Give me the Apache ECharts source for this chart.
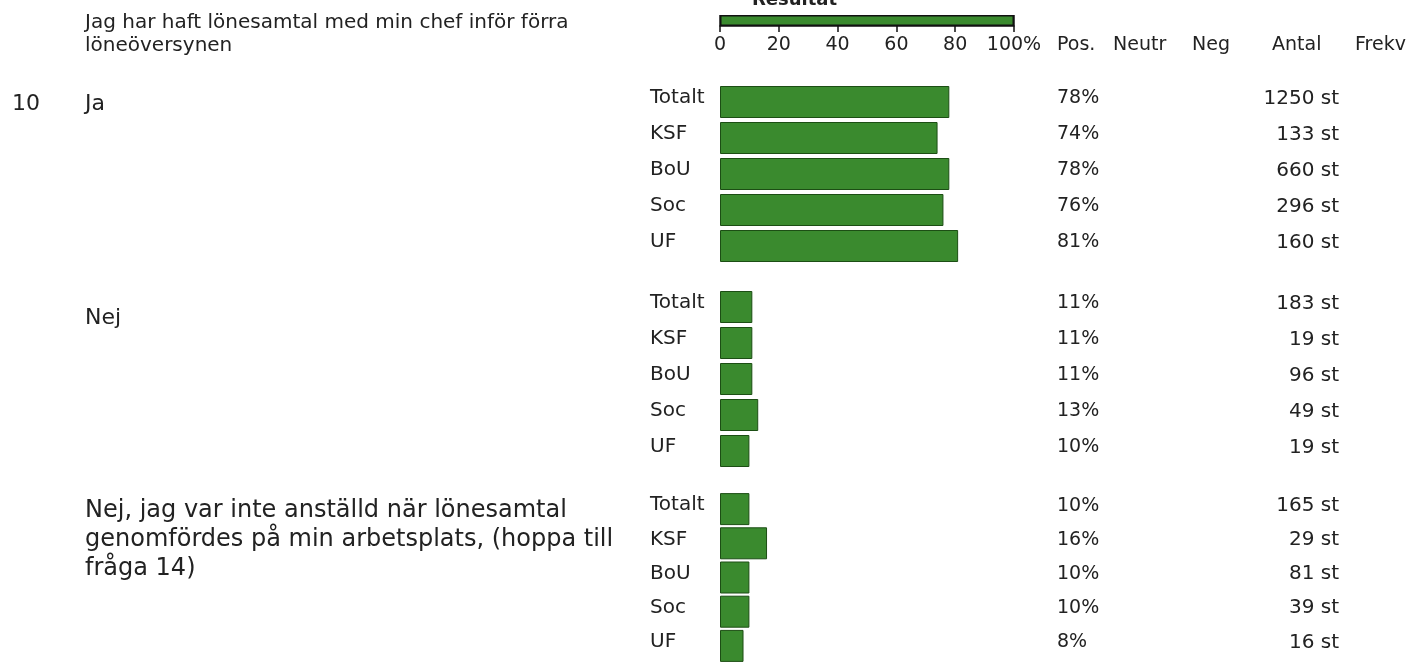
<!DOCTYPE html>
<html>
<head>
<meta charset="utf-8">
<script src="https://cdn.jsdelivr.net/npm/echarts@6/dist/echarts.min.js"></script>
<style>
  html, body { margin: 0; padding: 0; background: #fff; }
  #chart { width: 1426px; height: 663px; }
</style>
</head>
<body>
<div id="chart"></div>
<script>
// units
const units = ["Totalt", "KSF", "BoU", "Soc", "UF"];
// percentages per answer
const jaPct = [78, 74, 78, 76, 81];
const nejPct = [11, 11, 11, 13, 10];
const ejAnstPct = [10, 16, 10, 10, 8];
// counts per answer
const jaAntal = [1250, 133, 660, 296, 160];
const nejAntal = [183, 19, 96, 49, 19];
const ejAnstAntal = [165, 29, 81, 39, 16];
// scale ticks
const scaleTicks = [0, 20, 40, 60, 80, 100];

const groups = [
  { pct: jaPct, antal: jaAntal, top: 84 },
  { pct: nejPct, antal: nejAntal, top: 289 },
  { pct: ejAnstPct, antal: ejAnstAntal, top: 492 }
];

const FONT = "DejaVu Sans";
const GREEN = "#3a8a2e";
const LEFT = 720, WIDTH = 294;

const grids = [{ left: LEFT, width: WIDTH, top: 15, height: 11 }];
const xAxes = [{
  gridIndex: 0, type: "value", min: 0, max: 100, interval: 20,
  position: "bottom",
  axisLine: { show: true, lineStyle: { color: "#111", width: 1.5 } },
  axisTick: { show: true, length: 6, lineStyle: { color: "#111", width: 1.5 } },
  splitLine: { show: true, lineStyle: { color: "#111", width: 1.5 } },
  axisLabel: {
    margin: 10, color: "#222", fontFamily: FONT, fontSize: 19,
    formatter: v => (v === 100 ? "100%" : String(v))
  }
}];
const yAxes = [{ gridIndex: 0, type: "category", data: [""], show: false }];
const series = [{
  type: "bar", xAxisIndex: 0, yAxisIndex: 0, data: [scaleTicks[scaleTicks.length - 1]],
  barWidth: "100%", silent: true,
  itemStyle: { color: GREEN, borderColor: "#111", borderWidth: 1.5 }
}];

groups.forEach((g, i) => {
  const gi = i + 1;
  grids.push({ left: LEFT, width: WIDTH, top: g.top, height: 180 });
  xAxes.push({ gridIndex: gi, type: "value", min: 0, max: 100, show: false });
  yAxes.push({
    gridIndex: gi, type: "category", data: units, inverse: true, position: "left",
    axisLine: { show: false }, axisTick: { show: false },
    axisLabel: {
      align: "left", margin: 70, color: "#222", fontFamily: FONT, fontSize: 20,
      verticalAlign: "bottom", lineHeight: 8
    }
  });
  yAxes.push({
    gridIndex: gi, type: "category", data: units.map((u, k) => k), inverse: true, position: "right",
    axisLine: { show: false }, axisTick: { show: false },
    axisLabel: {
      align: "left", margin: 43, color: "#222", fontFamily: FONT, fontSize: 19,
      padding: [0, 0, 7, 0],
      formatter: (v, k) => `{p|${g.pct[k]}%}{n|${g.antal[k]} st}`,
      rich: {
        p: { width: 198, fontFamily: FONT, fontSize: 19, color: "#222" },
        n: { width: 84, align: "right", fontFamily: FONT, fontSize: 20, color: "#222" }
      }
    }
  });
  series.push({
    type: "bar", xAxisIndex: gi, yAxisIndex: yAxes.length - 2, data: g.pct,
    barWidth: 32, silent: true,
    itemStyle: { color: GREEN, borderColor: "#1c4e14", borderWidth: 1 }
  });
});

// text centred vertically on cy
const txt = (x, cy, text, size, weight, lh) => ({
  type: "text", x: x, y: cy,
  style: {
    text: text, fill: "#222", font: `${weight || "normal"} ${size}px "${FONT}"`,
    verticalAlign: "middle", lineHeight: lh || size
  }
});

const option = {
  animation: false,
  grid: grids,
  xAxis: xAxes,
  yAxis: yAxes,
  series: series,
  graphic: [
    txt(752, 0, "Resultat", 18, "bold"),
    txt(85, 34, "Jag har haft lönesamtal med min chef inför förra\nlöneöversynen", 20, "normal", 23),
    txt(1057, 45, "Pos.", 19), txt(1113, 45, "Neutr", 19), txt(1192, 45, "Neg", 19),
    txt(1272, 45, "Antal", 19), txt(1355, 45, "Frekv", 19),
    txt(12, 104, "10", 22), txt(85, 104, "Ja", 22),
    txt(85, 318, "Nej", 22),
    txt(85, 540, "Nej, jag var inte anställd när lönesamtal\ngenomfördes på min arbetsplats, (hoppa till\nfråga 14)", 24, "normal", 29)
  ]
};

const myChart = echarts.init(document.getElementById("chart"));
myChart.setOption(option);
</script>
</body>
</html>
